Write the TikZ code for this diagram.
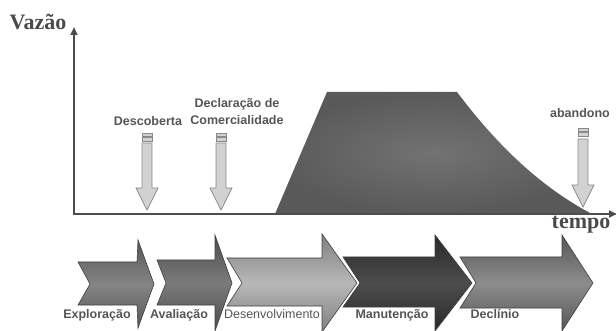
\documentclass[tikz,border=0pt]{standalone}
\usepackage{fontspec}
\setmainfont{Liberation Serif}
\newfontfamily\labfont{Liberation Sans}
\usetikzlibrary{arrows.meta}
\definecolor{axisgray}{HTML}{4D4D4D}
\definecolor{labgray}{HTML}{555555}
\definecolor{titlegray}{HTML}{4A4A4A}
\definecolor{downfill}{HTML}{D2D2D2}
\definecolor{downline}{HTML}{8A8A8A}
\tikzset{
  axisline/.style={line width=2.6pt, draw=axisgray, -{Triangle[length=8pt,width=7pt]}},
  axistitle/.style={font=\bfseries\fontsize{22}{24}\selectfont, text=titlegray, inner sep=0pt},
  evlabel/.style={font=\labfont\bfseries\fontsize{12.5}{17}\selectfont, text=labgray, inner sep=0pt, align=center},
  phaselabel/.style={font=\labfont\bfseries\fontsize{12.5}{14}\selectfont, text=labgray, inner sep=0pt},
  downarrow/.style={fill=downfill, draw=downline, line width=0.7pt},
  chevline/.style={draw=black!75, line width=0.6pt},
}
\newcommand{\downarr}[5]{% cx, captop, shafttop, shaftend, tip
  \fill[downarrow] (#1-5,#2) rectangle (#1+5,#2+3.5);
  \fill[downarrow] (#1-5,#2+4.5) rectangle (#1+5,#2+8.5);
  \fill[downarrow] (#1-5,#3) -- (#1+5,#3) -- (#1+5,#4) -- (#1+11,#4) -- (#1,#5) -- (#1-11,#4) -- (#1-5,#4) -- cycle;
}
\begin{document}
\begin{tikzpicture}[x=1pt,y=-1pt]
\useasboundingbox (0,0) rectangle (616,331);

% production curve
\path[shading=radial, inner color=black!55, outer color=black!65]
  (275,214) -- (327,92) -- (457,92) .. controls (482,125) and (527,180) .. (592,214) -- cycle;

% event arrows
\downarr{147}{133}{143}{188}{210}
\downarr{221}{133}{143}{188}{210}
\downarr{583}{128}{139}{185}{207}

% axes
\coordinate (O) at (74,214);
\coordinate (ytip) at (74,27);
\coordinate (xtip) at (617,214);
\draw[axisline] ([yshift=1.3pt]O) -- (ytip);
\draw[axisline] ([xshift=-1.3pt]O) -- (xtip);

\node[axistitle] (vazao) at (38,22) {Vazão};
\node[axistitle] (tempo) at (581,225) {tempo};

\node[evlabel] (desc) at (148,121) {Descoberta};
\node[evlabel] (decl) at (237,112) {Declaração de\\Comercialidade};
\node[evlabel] (aban) at (580,113) {abandono};

% chevrons
\path[chevline, top color=black!66, bottom color=black!66, middle color=black!48]
  (78,262) -- (137,262) -- (138,240) -- (154,284) -- (138,328) -- (137,305) -- (78,305) -- (90,284) -- cycle;
\path[chevline, top color=black!70, bottom color=black!70, middle color=black!52]
  (157,260) -- (215,260) -- (215,235) -- (232,283) -- (215,331) -- (215,305) -- (157,305) -- (166,283) -- cycle;
\path[chevline, top color=black!50, bottom color=black!50, middle color=black!28]
  (227,258) -- (322,258) -- (322,234) -- (357,283) -- (322,332) -- (322,306) -- (227,306) -- (242,283) -- cycle;
\path[chevline, top color=black!84, bottom color=black!84, middle color=black!70]
  (343,257) -- (435,257) -- (435,235) -- (472,283) -- (435,331) -- (435,307) -- (343,307) -- (360,283) -- cycle;
\path[chevline, top color=black!66, bottom color=black!66, middle color=black!45]
  (460,257) -- (562,257) -- (562,235) -- (593,283) -- (562,331) -- (562,308) -- (460,308) -- (476,283) -- cycle;

\node[phaselabel] (expl) at (97,315) {Exploração};
\node[phaselabel] (aval) at (179,315) {Avaliação};
\node[phaselabel, font=\labfont\fontsize{12.5}{14}\selectfont] (desenv) at (272,314) {Desenvolvimento};
\node[phaselabel] (manut) at (392,315) {Manutenção};
\node[phaselabel] (decli) at (495,314) {Declínio};
\end{tikzpicture}
\end{document}
